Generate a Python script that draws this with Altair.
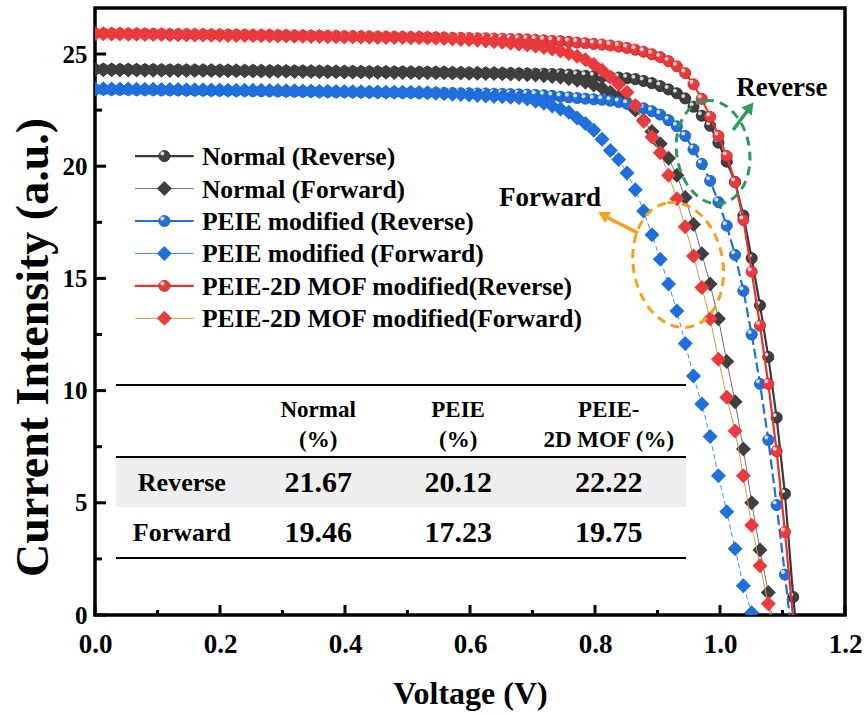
import altair as alt
import pandas as pd

# ---------------- data ----------------
V_STEP = 0.0133  # sweep step (V); point k sits at k * V_STEP

normal_rev = [24.32, 24.32, 24.31, 24.31, 24.31, 24.30, 24.30, 24.30, 24.29, 24.29,
              24.29, 24.28, 24.28, 24.28, 24.27, 24.27, 24.27, 24.26, 24.26, 24.26,
              24.25, 24.25, 24.25, 24.24, 24.24, 24.24, 24.23, 24.23, 24.23, 24.22,
              24.22, 24.22, 24.21, 24.21, 24.21, 24.20, 24.20, 24.20, 24.19, 24.19,
              24.19, 24.18, 24.18, 24.17, 24.17, 24.16, 24.16, 24.15, 24.15, 24.14,
              24.14, 24.13, 24.13, 24.12, 24.12, 24.11,
              24.10, 24.08, 24.05, 24.03, 24.01, 23.99, 23.97, 23.95, 23.92, 23.88,
              23.80, 23.70, 23.57, 23.42, 23.25, 23.02, 22.65, 22.25, 21.80, 21.05,
              20.20, 19.30, 17.80, 15.90, 13.80, 11.50, 8.80, 5.40, 0.80, -3.00]

normal_fwd = [24.30, 24.30, 24.30, 24.29, 24.29, 24.29, 24.28, 24.28, 24.28, 24.27,
              24.27, 24.27, 24.26, 24.26, 24.26, 24.25, 24.25, 24.25, 24.24, 24.24,
              24.24, 24.23, 24.23, 24.23, 24.22, 24.22, 24.22, 24.21, 24.21, 24.21,
              24.20, 24.20, 24.20, 24.19, 24.19, 24.19, 24.18, 24.18, 24.18, 24.17,
              24.17, 24.16, 24.16, 24.15, 24.15, 24.14, 24.14, 24.13, 24.13, 24.12,
              24.11, 24.10, 24.08, 24.06, 24.03, 24.00, 23.96, 23.90, 23.83, 23.74,
              23.62, 23.48, 23.30, 23.10, 22.86, 22.50, 22.05, 21.55, 21.00, 20.35,
              19.60, 18.60, 17.40, 16.10, 14.75, 13.20, 11.30, 9.50, 7.40, 5.00,
              2.90, 1.00, -1.50]

peie_rev = [23.42, 23.42, 23.41, 23.41, 23.41, 23.40, 23.40, 23.40, 23.39, 23.39,
            23.39, 23.38, 23.38, 23.38, 23.37, 23.37, 23.37, 23.36, 23.36, 23.35,
            23.35, 23.35, 23.34, 23.34, 23.33, 23.33, 23.33, 23.32, 23.32, 23.31,
            23.31, 23.31, 23.30, 23.30, 23.29, 23.29, 23.29, 23.28, 23.28, 23.27,
            23.27, 23.27, 23.26, 23.26, 23.25, 23.25, 23.24, 23.24, 23.23, 23.22,
            23.21, 23.20, 23.19, 23.18, 23.16, 23.13, 23.10, 23.07, 23.04, 23.01,
            22.98, 22.96, 22.92, 22.86, 22.78, 22.69, 22.58, 22.45, 22.30, 22.05,
            21.78, 21.35, 20.75, 20.10, 19.35, 18.40, 17.35, 16.05, 14.45, 12.50,
            10.30, 7.80, 4.90, 1.80, -1.50]

peie_fwd = [23.45, 23.45, 23.44, 23.44, 23.44, 23.43, 23.43, 23.43, 23.42, 23.42,
            23.42, 23.41, 23.41, 23.41, 23.40, 23.40, 23.39, 23.39, 23.39, 23.38,
            23.38, 23.37, 23.37, 23.36, 23.36, 23.35, 23.35, 23.34, 23.34, 23.33,
            23.33, 23.32, 23.32, 23.31, 23.31, 23.30, 23.30, 23.29, 23.29, 23.28,
            23.27, 23.25, 23.23, 23.21, 23.19, 23.17, 23.15, 23.13, 23.11, 23.09,
            23.07, 23.05, 23.00, 22.90, 22.80, 22.68, 22.55, 22.40, 22.15, 21.90,
            21.60, 21.20, 20.70, 20.30, 19.70, 18.95, 18.00, 16.95, 15.85, 14.75,
            13.55, 12.10, 10.65, 9.40, 7.95, 6.20, 4.60, 2.95, 1.30, 0.10,
            -1.50]

mof_rev = [25.92, 25.92, 25.91, 25.91, 25.90, 25.90, 25.90, 25.89, 25.89, 25.88,
           25.88, 25.88, 25.87, 25.87, 25.86, 25.86, 25.86, 25.85, 25.85, 25.84,
           25.84, 25.84, 25.83, 25.83, 25.82, 25.82, 25.81, 25.81, 25.80, 25.80,
           25.79, 25.79, 25.78, 25.78, 25.77, 25.77, 25.76, 25.76, 25.75, 25.75,
           25.74, 25.74, 25.73, 25.72, 25.72, 25.71, 25.70, 25.70, 25.69, 25.68,
           25.67, 25.66, 25.65, 25.63, 25.61, 25.59, 25.57, 25.54, 25.51, 25.48,
           25.45, 25.42, 25.38, 25.33, 25.27, 25.19, 25.10, 24.99, 24.86, 24.68,
           24.45, 24.15, 23.65, 23.00, 22.20, 21.35, 20.45, 19.30, 17.60, 15.30,
           12.90, 10.30, 7.30, 3.70, -0.20]

mof_fwd = [25.90, 25.90, 25.89, 25.89, 25.88, 25.88, 25.87, 25.87, 25.87, 25.86,
           25.86, 25.85, 25.85, 25.85, 25.84, 25.84, 25.83, 25.83, 25.82, 25.82,
           25.81, 25.81, 25.80, 25.80, 25.79, 25.79, 25.78, 25.78, 25.77, 25.77,
           25.76, 25.76, 25.75, 25.75, 25.74, 25.74, 25.73, 25.73, 25.72, 25.72,
           25.71, 25.70, 25.69, 25.67, 25.65, 25.63, 25.61, 25.58, 25.55, 25.52,
           25.48, 25.44, 25.40, 25.35, 25.29, 25.22, 25.13, 25.02, 24.90, 24.74,
           24.53, 24.28, 23.98, 23.65, 23.30, 22.70, 22.00, 21.30, 20.60, 19.60,
           18.55, 17.30, 16.00, 14.60, 13.20, 11.40, 9.70, 8.20, 6.20, 4.00,
           2.20, 0.50, -1.80]

SERIES_NAMES = ["Normal (Reverse)", "Normal (Forward)",
                "PEIE modified (Reverse)", "PEIE modified (Forward)",
                "PEIE-2D MOF modified(Reverse)", "PEIE-2D MOF modified(Forward)"]
SERIES_VALUES = [normal_rev, normal_fwd, peie_rev, peie_fwd, mof_rev, mof_fwd]

# efficiency table
TABLE_HEAD_1 = ["Normal", "PEIE", "PEIE-"]
TABLE_HEAD_2 = ["(%)", "(%)", "2D MOF (%)"]
TABLE_ROWS = ["Reverse", "Forward"]
PCE_REVERSE = ["21.67", "20.12", "22.22"]
PCE_FORWARD = ["19.46", "17.23", "19.75"]

X_MAJOR = [0.0, 0.2, 0.4, 0.6, 0.8, 1.0, 1.2]
X_MINOR = [0.1, 0.3, 0.5, 0.7, 0.9, 1.1]
Y_MAJOR = [0, 5, 10, 15, 20, 25]
Y_MINOR = [2.5, 7.5, 12.5, 17.5, 22.5]

# ---------------- styles ----------------
FONT = "Liberation Serif"
STYLES = [
    dict(fill="#3f3f3f", edge="#2a2a2a", line="#3a3a3a", width=2.2, dash=None, shape="circle", hl="#e6e6e6"),
    dict(fill="#3f3f3f", edge="#3f3f3f", line="#707070", width=1.0, dash=None, shape="diamond"),
    dict(fill="#1f6fdc", edge="#1559b8", line="#1f6fdc", width=2.2, dash=[10, 4], shape="circle", hl="#e4efff"),
    dict(fill="#1f6fdc", edge="#1f6fdc", line="#4b8de6", width=1.0, dash=[5, 3], shape="diamond"),
    dict(fill="#ea3a3d", edge="#c42427", line="#e23337", width=2.2, dash=None, shape="circle", hl="#ffe4e4"),
    dict(fill="#ea3a3d", edge="#ea3a3d", line="#c8a048", width=1.0, dash=None, shape="diamond"),
]
CIRCLE_SIZE = 125
DIAMOND_SIZE = 225

W, H = 750, 607
xs = alt.Scale(domain=[0, 1.2], nice=False, zero=False)
ys = alt.Scale(domain=[0, 27.05], nice=False, zero=False)

X = alt.X("V:Q", scale=xs, axis=alt.Axis(
    values=X_MAJOR, format=".1f", title="Voltage (V)", ticks=False, domain=False, grid=False,
    labelFlush=False, labelOverlap=False,
    labelFont=FONT, labelFontWeight="bold", labelFontSize=27, labelColor="black", labelPadding=16,
    titleFont=FONT, titleFontWeight="bold", titleFontSize=32, titleColor="black",
    titleX=375, titleY=78, titleBaseline="middle", titleAlign="center"))
Y = alt.Y("J:Q", scale=ys, axis=alt.Axis(
    values=Y_MAJOR, format="d", title="Current Intensity (a.u.)", ticks=False, domain=False, grid=False,
    labelFlush=False, labelOverlap=False,
    labelFont=FONT, labelFontWeight="bold", labelFontSize=25, labelColor="black", labelPadding=8,
    titleFont=FONT, titleFontWeight="bold", titleFontSize=46, titleColor="black",
    titleX=-62, titleY=339, titleAngle=270, titleBaseline="middle", titleAlign="center"))

layers = []

# ---- table (behind the curves) ----
T_LEFT, T_RIGHT = 0.0336, 0.9456
T_TOP, T_HEAD, T_SHADE_BOT, T_BOT = 10.25, 7.04, 4.81, 2.54
T_H1, T_H2, T_R1, T_R2 = 9.14, 7.80, 5.88, 3.65
T_COLX = [0.357, 0.581, 0.822]
T_LABX = 0.139

shade = pd.DataFrame({"V": [T_LEFT], "V2": [T_RIGHT], "J": [T_SHADE_BOT], "J2": [T_HEAD]})
layers.append(alt.Chart(shade).mark_rect(color="#eeeeee").encode(
    x=X, x2="V2:Q", y=Y, y2="J2:Q"))
rules = pd.DataFrame({"V": [T_LEFT] * 3, "V2": [T_RIGHT] * 3, "J": [T_TOP, T_HEAD, T_BOT]})
layers.append(alt.Chart(rules).mark_rule(color="black", strokeWidth=2).encode(
    x=X, x2="V2:Q", y=Y))

head = pd.DataFrame({"V": T_COLX * 2, "J": [T_H1] * 3 + [T_H2] * 3,
                     "t": TABLE_HEAD_1 + TABLE_HEAD_2})
layers.append(alt.Chart(head).mark_text(font=FONT, fontWeight="bold", fontSize=23, color="black",
                                        align="center", baseline="middle").encode(x=X, y=Y, text="t:N"))
rowlab = pd.DataFrame({"V": [T_LABX] * 2, "J": [T_R1, T_R2], "t": TABLE_ROWS})
layers.append(alt.Chart(rowlab).mark_text(font=FONT, fontWeight="bold", fontSize=26, color="black",
                                          align="center", baseline="middle").encode(x=X, y=Y, text="t:N"))
vals = pd.DataFrame({"V": T_COLX * 2, "J": [T_R1] * 3 + [T_R2] * 3,
                     "t": PCE_REVERSE + PCE_FORWARD})
layers.append(alt.Chart(vals).mark_text(font=FONT, fontWeight="bold", fontSize=30, color="black",
                                        align="center", baseline="middle").encode(x=X, y=Y, text="t:N"))


def marker_layers(df, st):
    out = []
    if st["shape"] == "circle":
        out.append(alt.Chart(df).mark_point(shape="circle", filled=True, size=CIRCLE_SIZE, fill=st["fill"],
                                            stroke=st["edge"], strokeWidth=0.8, opacity=1, clip=True)
                   .encode(x=X, y=Y))
        out.append(alt.Chart(df).mark_point(shape="circle", filled=True, size=16, fill=st["hl"],
                                            opacity=0.9, xOffset=-2, yOffset=-2.5, clip=True)
                   .encode(x=X, y=Y))
    else:
        out.append(alt.Chart(df).mark_point(shape="diamond", filled=True, size=DIAMOND_SIZE, fill=st["fill"],
                                            opacity=1, clip=True).encode(x=X, y=Y))
    return out


# ---- curves ----
for name, vals_, st in zip(SERIES_NAMES, SERIES_VALUES, STYLES):
    df = pd.DataFrame({"V": [round(k * V_STEP, 4) for k in range(len(vals_))], "J": vals_})
    lkw = dict(color=st["line"], strokeWidth=st["width"], clip=True)
    if st["dash"]:
        lkw["strokeDash"] = st["dash"]
    layers.append(alt.Chart(df).mark_line(**lkw).encode(x=X, y=Y, order="V:Q"))
    layers += marker_layers(df[df["J"] >= 0], st)

# ---- ticks (inward) ----
def xticks(vals_, length):
    d = pd.DataFrame({"V": vals_})
    return alt.Chart(d).mark_rule(color="black", strokeWidth=3).encode(
        x=X, y=alt.value(H), y2=alt.value(H - length))

def yticks(vals_, length):
    d = pd.DataFrame({"J": vals_})
    return alt.Chart(d).mark_rule(color="black", strokeWidth=3).encode(
        y=Y, x=alt.value(0), x2=alt.value(length))

layers += [xticks(X_MAJOR, 10), xticks(X_MINOR, 5), yticks(Y_MAJOR, 11), yticks(Y_MINOR, 7)]

# ---- legend (drawn inside the plot) ----
LEG_X1, LEG_X2, LEG_MARK, LEG_TEXT = 0.064, 0.158, 0.111, 0.171
LEG_Y0, LEG_DY = 20.45, 1.446
for i, (name, st) in enumerate(zip(SERIES_NAMES, STYLES)):
    yy = LEG_Y0 - i * LEG_DY
    seg = pd.DataFrame({"V": [LEG_X1], "V2": [LEG_X2], "J": [yy]})
    layers.append(alt.Chart(seg).mark_rule(color=st["line"], strokeWidth=st["width"]).encode(
        x=X, x2="V2:Q", y=Y))
    layers += marker_layers(pd.DataFrame({"V": [LEG_MARK], "J": [yy]}), st)
    layers.append(alt.Chart(pd.DataFrame({"V": [LEG_TEXT], "J": [yy], "t": [name]})).mark_text(
        font=FONT, fontWeight="bold", fontSize=25.5, color="black", align="left", baseline="middle",
        dy=1).encode(x=X, y=Y, text="t:N"))

# ---- annotations: dashed ellipses, arrows, labels ----
def ellipse_path(r):
    k = 0.5523
    a, b = r * k, k
    return (f"M 0 -1 C {a:.3f} -1 {r:.3f} {-b:.3f} {r:.3f} 0 "
            f"C {r:.3f} {b:.3f} {a:.3f} 1 0 1 "
            f"C {-a:.3f} 1 {-r:.3f} {b:.3f} {-r:.3f} 0 "
            f"C {-r:.3f} {-b:.3f} {-a:.3f} -1 0 -1 Z")

GREEN, ORANGE = "#2e9a5c", "#f4a21e"
ANNOT = [
    dict(c=GREEN, ev=0.989, ej=20.63, ry=52, r=0.70, ang=351,
         tail=(1.021, 21.61), tip=(1.046, 22.55), head=(1.048, 22.64), hang=37,
         text="Reverse", tpos=(1.099, 23.48)),
    dict(c=ORANGE, ev=0.933, ej=15.60, ry=63, r=0.71, ang=350,
         tail=(0.869, 17.02), tip=(0.815, 17.78), head=(0.813, 17.83), hang=297,
         text="Forward", tpos=(0.728, 18.58)),
]
for a in ANNOT:
    layers.append(alt.Chart(pd.DataFrame({"V": [a["ev"]], "J": [a["ej"]]})).mark_point(
        shape=ellipse_path(a["r"]), size=(2 * a["ry"]) ** 2, filled=False, stroke=a["c"],
        strokeWidth=3, strokeDash=[9, 6], angle=a["ang"], opacity=1).encode(x=X, y=Y))
    layers.append(alt.Chart(pd.DataFrame({"V": [a["tail"][0]], "V2": [a["tip"][0]],
                                          "J": [a["tail"][1]], "J2": [a["tip"][1]]})).mark_rule(
        color=a["c"], strokeWidth=3.5).encode(x=X, x2="V2:Q", y=Y, y2="J2:Q"))
    layers.append(alt.Chart(pd.DataFrame({"V": [a["head"][0]], "J": [a["head"][1]]})).mark_point(
        shape="triangle-up", filled=True, size=170, fill=a["c"], opacity=1, angle=a["hang"]).encode(x=X, y=Y))
    layers.append(alt.Chart(pd.DataFrame({"V": [a["tpos"][0]], "J": [a["tpos"][1]], "t": [a["text"]]})).mark_text(
        font=FONT, fontWeight="bold", fontSize=27, color="black", align="center", baseline="middle").encode(
        x=X, y=Y, text="t:N"))

chart = alt.layer(*layers).properties(
    width=W, height=H,
    autosize=alt.AutoSizeParams(type="none"),
    padding={"left": 95, "top": 8, "right": 22, "bottom": 100},
    background="white",
).configure_view(stroke="black", strokeWidth=3.5)

chart.save("out.html", embed_options={"renderer": "svg", "actions": False})
